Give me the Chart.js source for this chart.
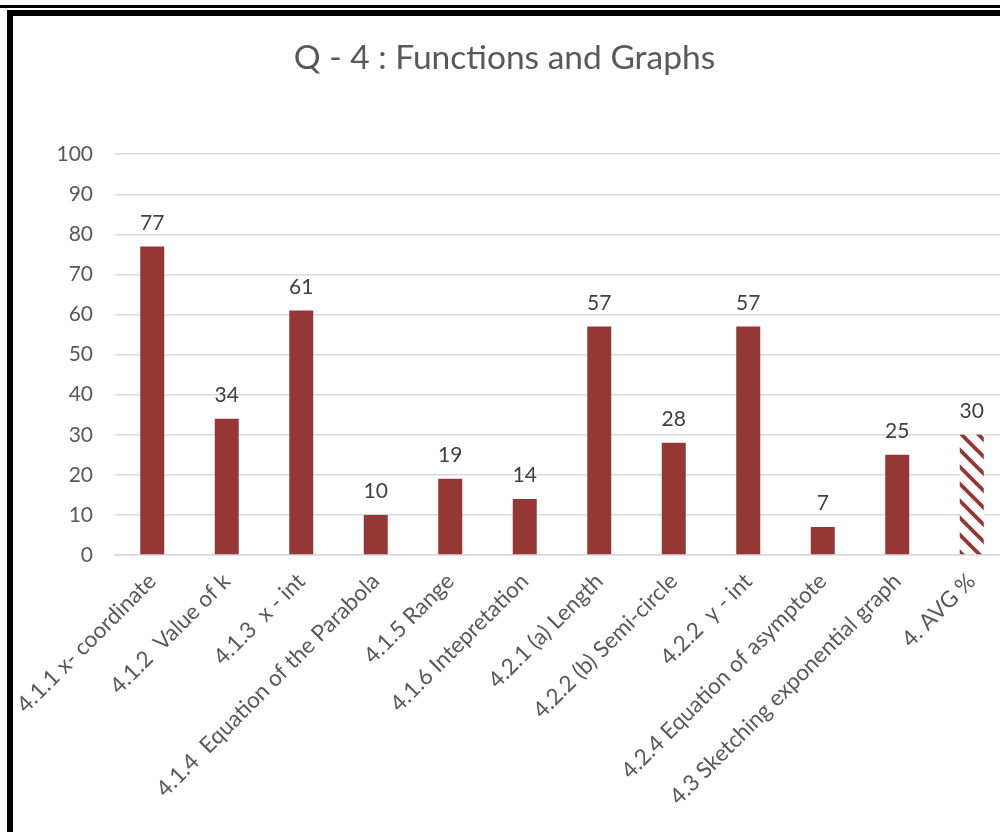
<!DOCTYPE html>
<html>
<head>
<meta charset="utf-8">
<script src="https://cdn.jsdelivr.net/npm/chart.js@4/dist/chart.umd.min.js"></script>
<style>
  html, body { margin: 0; padding: 0; background: #fff; }
  #wrap { position: relative; width: 1000px; height: 832px; overflow: hidden; background: #fff; }
  #rule { position: absolute; left: 0; top: 5px; width: 1000px; height: 3px; background: #000; }
  #frame { position: absolute; left: 7px; top: 10px; width: 1100px; height: 818px;
           border-top: 6px solid #000; border-left: 6px solid #000; border-bottom: 2px solid #595959; }
  #chart { position: absolute; left: 0; top: 0; }
</style>
</head>
<body>
<div id="wrap">
  <div id="rule"></div>
  <div id="frame"></div>
  <canvas id="chart" width="1020" height="832"></canvas>
</div>
<script>
// Question items and their average scores (%)
const categories = [
  '4.1.1 x- coordinate',
  '4.1.2  Value of k',
  '4.1.3  x - int',
  '4.1.4  Equation of the Parabola',
  '4.1.5 Range',
  '4.1.6 Intepretation',
  '4.2.1 (a) Length',
  '4.2.2 (b) Semi-circle',
  '4.2.2  y - int',
  '4.2.4 Equation of asymptote',
  '4.3 Sketching exponential graph',
  '4. AVG %'
];
const scores = [77, 34, 61, 10, 19, 14, 57, 28, 57, 7, 25, 30];
const yTicks = [0, 10, 20, 30, 40, 50, 60, 70, 80, 90, 100];

const BAR_RED = '#953735';
const FONT = 'Lato, "Open Sans", sans-serif';

// Diagonal stripe fill for the average bar
function stripePattern() {
  const s = 17;
  const c = document.createElement('canvas');
  c.width = s; c.height = s;
  const g = c.getContext('2d');
  g.fillStyle = '#fff';
  g.fillRect(0, 0, s, s);
  g.strokeStyle = BAR_RED;
  g.lineWidth = 3.8;
  for (const off of [-s, 0, s]) {
    g.beginPath();
    g.moveTo(off - 2, -2);
    g.lineTo(off + s + 2, s + 2);
    g.stroke();
  }
  return g.createPattern(c, 'repeat');
}

const fills = scores.map((v, i) => i === scores.length - 1 ? stripePattern() : BAR_RED);

// Value labels above each bar
const valueLabels = {
  id: 'valueLabels',
  afterDatasetsDraw(chart) {
    const ctx = chart.ctx;
    const meta = chart.getDatasetMeta(0);
    ctx.save();
    ctx.font = '21px ' + FONT;
    ctx.fillStyle = '#404040';
    ctx.textAlign = 'center';
    ctx.textBaseline = 'bottom';
    meta.data.forEach((bar, i) => {
      ctx.fillText(String(scores[i]), bar.x, bar.y - 13);
    });
    ctx.restore();
  }
};

new Chart(document.getElementById('chart'), {
  type: 'bar',
  data: {
    labels: categories,
    datasets: [{
      data: scores,
      backgroundColor: fills,
      borderWidth: 0,
      categoryPercentage: 1,
      barPercentage: 0.322
    }]
  },
  options: {
    responsive: false,
    animation: false,
    layout: { padding: { left: 0, right: 11, top: 0, bottom: 0 } },
    plugins: {
      legend: { display: false },
      tooltip: { enabled: false },
      title: {
        display: true,
        text: 'Q - 4 : Functions and Graphs',
        color: '#595959',
        font: { family: FONT, size: 33.5, weight: 'normal', lineHeight: 1.2 },
        padding: { top: 38, bottom: 76 }
      }
    },
    scales: {
      x: {
        grid: { display: false, drawTicks: false },
        border: { display: true, color: '#d9d9d9', width: 1.5 },
        ticks: {
          autoSkip: false,
          maxRotation: 45,
          minRotation: 45,
          padding: 13,
          color: '#595959',
          font: { family: FONT, size: 22.5 }
        },
        afterFit(scale) { scale.height = 277; }
      },
      y: {
        min: 0,
        max: 100,
        afterBuildTicks(scale) { scale.ticks = yTicks.map(v => ({ value: v })); },
        grid: { color: '#d9d9d9', lineWidth: 1.5, drawTicks: false },
        border: { display: false },
        ticks: {
          padding: 22,
          color: '#595959',
          font: { family: FONT, size: 21 }
        },
        afterFit(scale) { scale.width = 115; }
      }
    }
  },
  plugins: [valueLabels]
});
</script>
</body>
</html>
